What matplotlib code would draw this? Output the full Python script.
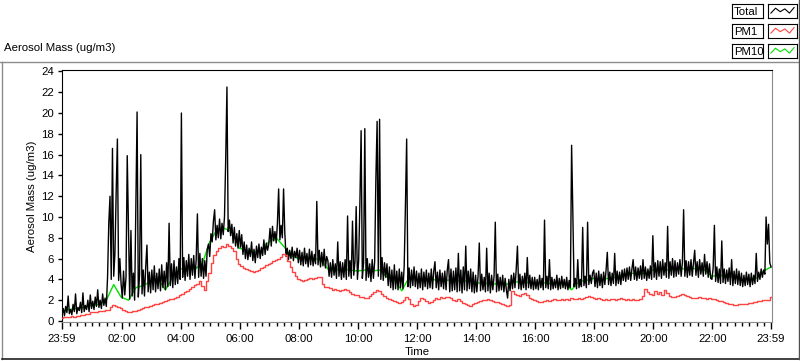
import numpy as np
import matplotlib
matplotlib.use("Agg")
import matplotlib.pyplot as plt

#%% Data (minutes since 23:59 of the previous day)

# Total aerosol mass, one value every 2.5 minutes, one row per hour
total = [
    0.6, 1.2, 0.5, 1.4, 0.8, 2.4, 0.7, 1.1, 0.6, 1.6, 0.9, 2.6, 0.7, 1.3, 1.0, 1.8, 0.8, 2.7, 0.9, 1.5, 1.1, 2.0, 0.9, 2.5,
    1.2, 1.9, 1.1, 2.3, 1.4, 3.0, 1.3, 2.0, 1.2, 2.6, 1.5, 2.2, 1.4, 4.2, 9.4, 12.0, 4.0, 16.6, 4.3, 6.5, 12.3, 17.5, 3.9, 6.0,
    3.6, 2.2, 4.8, 2.5, 4.2, 15.9, 8.8, 2.1, 8.7, 2.4, 4.6, 2.0, 11.3, 20.1, 2.3, 4.4, 16.0, 2.6, 4.9, 2.4, 5.2, 7.3, 2.8, 4.7,
    2.7, 4.9, 3.0, 5.3, 2.8, 4.6, 3.1, 5.0, 2.9, 5.4, 3.2, 4.8, 3.0, 5.6, 3.3, 9.4, 3.4, 5.5, 3.2, 5.8, 3.5, 5.2, 3.6, 6.0,
    4.0, 20.0, 4.2, 6.1, 3.9, 5.8, 4.3, 6.4, 4.0, 6.0, 4.4, 6.3, 4.1, 5.9, 10.3, 4.2, 6.5, 4.3, 6.0, 4.1, 5.8, 4.3, 6.9, 7.4,
    6.2, 8.4, 7.6, 9.6, 10.7, 7.8, 9.2, 8.0, 9.8, 7.9, 9.4, 8.3, 10.0, 15.6, 22.5, 8.6, 9.7, 8.2, 9.3, 7.5, 9.0, 7.2, 8.4, 7.0,
    8.7, 7.1, 8.3, 6.4, 7.6, 6.0, 7.3, 5.9, 7.0, 6.2, 7.6, 5.8, 6.9, 5.6, 7.2, 6.1, 7.4, 6.0, 7.1, 6.3, 7.8, 6.4, 7.5, 6.8,
    7.4, 8.9, 7.2, 9.1, 7.7, 8.6, 7.5, 9.4, 12.7, 7.8, 9.2, 8.0, 12.7, 8.5, 6.2, 7.0, 5.9, 6.8, 6.0, 7.1, 5.8, 6.7, 6.1, 7.0,
    5.6, 6.8, 5.4, 6.6, 5.3, 7.0, 5.5, 6.5, 5.2, 6.9, 5.4, 6.7, 5.3, 6.4, 5.5, 11.5, 5.4, 6.8, 5.2, 6.6, 5.3, 6.9, 5.1, 6.2,
    5.8, 4.3, 5.6, 4.2, 5.9, 4.4, 5.5, 4.1, 7.6, 4.3, 5.7, 4.0, 5.6, 4.2, 5.9, 4.0, 10.1, 4.3, 5.8, 4.1, 9.6, 4.4, 5.7, 11.0,
    4.0, 5.8, 11.3, 18.3, 4.1, 5.6, 18.5, 3.9, 6.0, 4.2, 5.5, 3.8, 5.9, 4.1, 5.7, 13.7, 19.2, 4.3, 19.4, 4.0, 6.1, 3.9, 5.6, 4.2,
    5.5, 3.4, 5.2, 3.2, 4.9, 3.0, 5.4, 3.1, 4.8, 3.0, 5.0, 3.2, 4.7, 3.1, 5.3, 11.1, 17.5, 3.3, 5.1, 3.2, 4.9, 3.4, 5.2, 3.3,
    4.8, 3.1, 4.6, 3.2, 5.0, 3.0, 4.7, 3.3, 4.9, 3.1, 4.6, 3.2, 5.0, 3.1, 4.8, 5.7, 3.2, 4.7, 3.0, 4.9, 3.3, 4.6, 3.1, 4.8,
    3.0, 4.9, 5.9, 2.8, 5.0, 2.9, 4.8, 3.0, 5.1, 2.8, 6.5, 2.9, 4.9, 2.7, 5.2, 3.0, 7.2, 2.9, 4.8, 3.1, 5.0, 2.8, 4.7, 2.7,
    4.4, 2.8, 4.3, 7.5, 2.9, 4.5, 3.0, 4.2, 2.8, 7.0, 2.9, 4.6, 2.7, 4.4, 3.0, 4.3, 9.5, 2.8, 4.5, 2.9, 4.2, 3.0, 4.4, 2.8,
    4.1, 3.0, 2.2, 4.0, 2.9, 4.4, 3.1, 4.6, 3.2, 5.0, 7.2, 3.1, 4.5, 3.0, 4.3, 3.2, 4.6, 3.0, 6.1, 3.2, 4.4, 3.1, 4.2, 3.0,
    4.2, 3.1, 4.0, 3.0, 4.4, 3.2, 4.1, 3.0, 9.7, 3.2, 4.3, 3.1, 5.9, 3.0, 4.2, 3.1, 4.0, 3.2, 4.4, 3.0, 4.1, 3.1, 4.3, 3.2,
    4.0, 3.1, 4.2, 3.0, 3.9, 3.2, 16.9, 10.4, 3.3, 4.1, 3.1, 5.9, 3.2, 4.0, 3.3, 9.0, 3.4, 4.3, 3.2, 9.5, 3.5, 4.4, 3.6, 4.6,
    4.9, 3.3, 4.6, 3.2, 4.8, 3.4, 4.5, 3.2, 4.7, 3.5, 4.9, 6.6, 3.5, 4.7, 3.4, 4.6, 3.6, 6.5, 3.4, 4.8, 3.6, 4.7, 3.5, 4.9,
    3.9, 5.0, 3.8, 5.1, 4.0, 5.2, 3.9, 5.0, 5.9, 4.0, 5.2, 3.9, 5.1, 4.1, 5.3, 4.0, 5.9, 4.1, 5.2, 3.9, 5.0, 4.1, 5.3, 4.0,
    8.2, 4.2, 5.6, 4.0, 5.8, 4.3, 5.7, 4.1, 5.9, 4.4, 5.6, 4.2, 9.1, 4.1, 5.7, 4.4, 6.0, 4.2, 5.8, 4.3, 5.6, 4.5, 5.9, 4.3,
    5.6, 10.7, 4.3, 5.8, 4.2, 5.7, 4.4, 5.9, 4.3, 5.6, 6.8, 4.4, 5.7, 4.2, 5.9, 4.5, 5.6, 4.3, 6.4, 4.5, 5.7, 4.2, 5.5, 4.1,
    4.0, 5.1, 9.2, 3.8, 5.2, 3.7, 5.0, 3.6, 7.7, 3.7, 5.0, 3.6, 4.9, 3.8, 5.1, 3.5, 5.9, 3.4, 4.8, 3.6, 5.0, 3.5, 4.8, 3.4,
    4.6, 3.3, 4.4, 3.4, 4.7, 3.5, 4.5, 3.3, 4.6, 3.5, 4.4, 3.6, 6.5, 3.8, 4.7, 4.0, 5.0, 4.2, 4.9, 4.5, 10.0, 7.4, 9.3, 5.6,
    5.2,
]

# PM1, one value every 5 minutes, one row per hour
pm1 = [
    0.3, 0.35, 0.4, 0.4, 0.45, 0.4, 0.5, 0.45, 0.55, 0.6, 0.65, 0.7,
    0.85, 0.9, 0.9, 0.95, 1.0, 1.0, 1.05, 1.1, 1.35, 1.5, 1.4, 1.3,
    1.2, 1.1, 1.0, 0.9, 0.85, 0.95, 1.0, 1.1, 1.15, 1.25, 1.3, 1.35,
    1.45, 1.5, 1.6, 1.65, 1.75, 1.8, 1.9, 2.0, 2.1, 2.15, 2.2, 2.3,
    2.5, 2.6, 2.8, 2.9, 3.1, 3.3, 3.5, 3.6, 3.8, 3.4, 3.0, 3.8,
    4.6, 5.6, 6.3, 6.7, 7.0, 7.2, 7.1, 7.4, 7.2, 7.0, 6.7, 6.0,
    5.5, 5.3, 5.1, 5.0, 4.9, 4.8, 4.7, 4.8, 4.9, 5.1, 5.2, 5.4,
    5.5, 5.6, 5.8, 5.9, 6.0, 6.2, 6.4, 6.3, 5.8, 5.2, 4.7, 4.3,
    4.0, 3.9, 3.8, 3.9, 4.0, 4.1, 4.0, 4.1, 4.2, 4.2, 3.6, 3.3,
    3.3, 3.2, 3.0, 3.1, 3.0, 2.9, 3.0, 3.1, 3.0, 2.8, 2.6, 2.5,
    2.5, 2.3, 2.3, 2.2, 2.2, 2.4, 2.6, 2.8, 3.0, 2.9, 2.6, 2.4,
    2.2, 2.1, 2.0, 1.9, 1.8, 1.7, 1.8, 2.0, 2.3, 2.1, 1.6, 1.4,
    1.5, 1.9, 2.2, 2.1, 1.9, 1.7, 1.8, 2.0, 2.2, 2.1, 2.3, 2.2,
    2.3, 2.3, 2.2, 2.0, 1.9, 2.1, 1.9, 1.7, 1.6, 1.5, 1.4, 1.6,
    1.7, 1.8, 1.9, 2.0, 2.0, 2.1, 2.0, 1.9, 1.8, 1.8, 1.7, 1.6,
    1.5, 1.4, 1.5, 2.9, 2.6, 2.5, 2.4, 2.6, 2.7, 2.5, 2.2, 2.1,
    2.0, 1.9, 1.8, 1.8, 1.9, 2.0, 1.9, 2.0, 2.1, 2.0, 2.0, 2.1,
    2.0, 2.1, 2.0, 2.2, 2.1, 2.1, 2.2, 2.1, 2.2, 2.3, 2.4, 2.3,
    2.2, 2.1, 2.2, 2.1, 2.0, 2.1, 2.0, 2.1, 2.1, 2.0, 2.1, 2.2,
    2.1, 2.0, 2.1, 2.0, 2.1, 2.0, 2.0, 2.1, 2.4, 3.1, 2.8, 2.6,
    2.5, 2.9, 2.6, 2.8, 2.5, 3.0, 2.7, 2.4, 2.3, 2.3, 2.4, 2.5,
    2.6, 2.5, 2.4, 2.3, 2.2, 2.2, 2.2, 2.3, 2.2, 2.2, 2.1, 2.2,
    2.1, 2.1, 2.0, 1.9, 1.9, 1.8, 1.7, 1.6, 1.6, 1.5, 1.5, 1.6,
    1.6, 1.6, 1.6, 1.7, 1.7, 1.8, 1.8, 1.9, 1.9, 2.0, 2.0, 2.0,
    2.3,
]

# PM10, one value every 15 minutes (mostly hidden behind Total)
pm10 = [
    1.0, 1.1, 1.2, 1.3, 1.5, 1.6, 2.0, 3.5, 2.3, 2.0, 3.2, 3.4,
    3.8, 4.0, 3.0, 4.2, 5.0, 5.1, 5.0, 5.5, 7.6, 8.8, 8.9, 8.6,
    7.0, 6.8, 6.6, 6.8, 7.6, 8.0, 7.2, 6.3, 6.0, 6.1, 6.0, 5.9,
    5.0, 4.9, 5.0, 4.9, 4.8, 4.9, 4.8, 4.9, 4.2, 4.0, 2.9, 4.2,
    4.0, 3.9, 4.0, 3.9, 3.9, 4.0, 3.8, 3.9, 3.6, 3.7, 3.5, 3.6,
    3.5, 3.7, 3.8, 3.7, 3.6, 3.7, 3.6, 3.6, 3.6, 3.0, 3.8, 3.9,
    4.1, 4.0, 4.1, 4.2, 4.5, 4.6, 4.5, 4.6, 4.9, 5.0, 4.9, 5.0,
    5.0, 5.1, 5.0, 4.9, 4.3, 4.4, 4.3, 4.2, 4.0, 4.0, 4.1, 4.8,
    5.2,
]

tick_labels = ['23:59', '02:00', '04:00', '06:00', '08:00', '10:00', '12:00',
               '14:00', '16:00', '18:00', '20:00', '22:00', '23:59']
y_ticks = [0, 2, 4, 6, 8, 10, 12, 14, 16, 18, 20, 22, 24]
series_names = ['Total', 'PM1', 'PM10']

#%% Style

W, H = 800, 361
FONT = ['Liberation Sans', 'DejaVu Sans']
FS = 8.2
BLACK = '#000000'
RED = '#ff4444'
GREEN = '#00e000'
GRAY = '#8c8c8c'
COLORS = {'Total': BLACK, 'PM1': RED, 'PM10': GREEN}

plt.rcParams['font.family'] = FONT
plt.rcParams['font.size'] = FS

def px(x0, y0, x1, y1):
    """pixel box (top-left origin) -> figure fraction rect"""
    return [x0 / W, 1 - y1 / H, (x1 - x0) / W, (y1 - y0) / H]

t_total = np.arange(len(total)) * 2.5
t_pm1 = np.arange(len(pm1)) * 5
t_pm10 = np.arange(len(pm10)) * 15

# tick positions from the clock labels (minutes since 23:59)
tick_pos = []
for lab in tick_labels:
    h, m = map(int, lab.split(':'))
    tick_pos.append((h * 60 + m + 1) % 1440)
tick_pos[-1] = 1440
minor_pos = [1 + 15 * k for k in range(1, 96) if (1 + 15 * k) not in tick_pos]

#%% Figure

fig = plt.figure(figsize=(W / 100, H / 100), dpi=100)
fig.patch.set_facecolor('white')

# outer sunken frame
frame = fig.add_axes([0, 0, 1, 1], zorder=-5)
frame.set_xlim(0, W)
frame.set_ylim(H, 0)
frame.axis('off')
frame.plot([0, W], [61.5, 61.5], color=GRAY, lw=1)
frame.plot([2, 2], [61.5, 359], color=GRAY, lw=1)
frame.plot([2, 799], [358.5, 358.5], color='#202020', lw=1.2)
frame.plot([798.5, 798.5], [0, 359], color='#505050', lw=1)
frame.text(4, 48, 'Aerosol Mass (ug/m3)', ha='left', va='center', fontsize=FS)

ax = fig.add_axes(px(62, 70, 772, 322))
ax.plot(t_pm10, pm10, color=GREEN, lw=1.0, zorder=2)
ax.plot(t_total, total, color=BLACK, lw=1.0, zorder=3)
ax.plot(t_pm1, pm1, color=RED, lw=1.0, drawstyle='steps-mid', zorder=4)

ax.set_xlim(0, 1442)
ax.set_ylim(-0.1, 24.14)
ax.set_yticks(y_ticks)
ax.set_xticks(tick_pos)
ax.set_xticklabels(tick_labels)
ax.set_xticks(minor_pos, minor=True)
ax.tick_params(axis='y', direction='out', length=3, width=1, pad=3, labelsize=FS)
ax.tick_params(axis='x', which='major', direction='out', length=5, width=1, pad=4, labelsize=FS)
ax.tick_params(axis='x', which='minor', direction='out', length=3, width=1)
for side in ['top', 'left']:
    ax.spines[side].set_color(BLACK)
for side in ['right', 'bottom']:
    ax.spines[side].set_color(GRAY)
ax.set_ylabel('Aerosol Mass (ug/m3)', fontsize=FS, labelpad=3)
ax.set_xlabel('Time', fontsize=FS, labelpad=2)

# legend boxes (LabVIEW style)
zig = [0.35, 0.7, 0.45, 0.65, 0.35, 0.75]
for i, name in enumerate(series_names):
    y0 = 4 + 20 * i
    lab = fig.add_axes(px(732, y0, 763, y0 + 14))
    lab.set_xticks([])
    lab.set_yticks([])
    for s in lab.spines.values():
        s.set_color(BLACK)
    lab.text(0.06, 0.45, name, ha='left', va='center', fontsize=FS, transform=lab.transAxes)
    smp = fig.add_axes(px(768, y0, 797, y0 + 14))
    smp.set_xticks([])
    smp.set_yticks([])
    for s in smp.spines.values():
        s.set_color(BLACK)
    smp.plot(np.linspace(0.1, 0.9, len(zig)), zig, color=COLORS[name], lw=0.8)
    smp.set_xlim(0, 1)
    smp.set_ylim(0, 1)

fig.savefig('out.png', dpi=100, facecolor='white')
